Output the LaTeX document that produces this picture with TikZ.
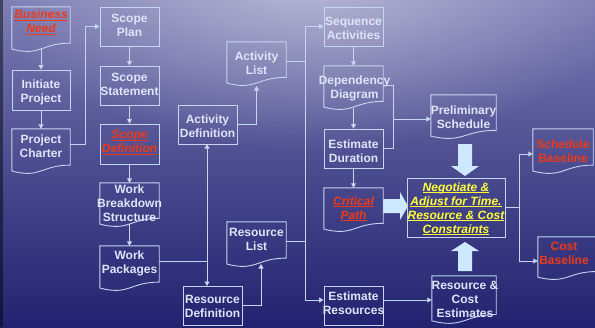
\documentclass[tikz,border=0pt]{standalone}
\usepackage{fontspec}
\setmainfont{Liberation Sans}
\usetikzlibrary{arrows.meta,calc,fadings}

% underline with a heavier rule
\newcommand\undl[1]{\setbox0\hbox{#1}\rlap{\rule[-2pt]{\wd0}{1pt}}\box0}

\definecolor{bgtop}{HTML}{7C7CB4}
\definecolor{bgmid}{HTML}{4C4C90}
\definecolor{bgbot}{HTML}{222270}
\definecolor{linec}{HTML}{C4D6F0}
\definecolor{textc}{HTML}{DCE6F8}
\definecolor{redc}{HTML}{EC3A16}
\definecolor{yellowc}{HTML}{FFFF3A}
\definecolor{bigarrow}{HTML}{CDE8FF}

\tikzfading[name=glow, inner color=transparent!55, outer color=transparent!100]

% outline of a flowchart "document" shape around an (invisible) node
\newcommand\docoutline[1]{%
  \draw[outline] (#1.north west) -- (#1.north east)
    -- ($(#1.north east)!0.8!(#1.south east)$)
    .. controls ($(#1.north)!0.8!(#1.south)$) and ($(#1.north)!1.1!(#1.south)$)
    .. ($(#1.north west)!0.93!(#1.south west)$) -- cycle;}

\begin{document}
\begin{tikzpicture}[x=1pt,y=-1pt,
  outline/.style={draw=linec, line width=0.9pt},
  box/.style={outline, minimum width=59pt, minimum height=39pt, inner sep=0pt},
  docbox/.style={draw=none, minimum width=59pt, minimum height=45pt, inner sep=0pt},
  txt/.style={font=\bfseries\fontsize{12}{14}\selectfont, text=textc, align=center, inner sep=0pt},
  redtxt/.style={txt, text=redc, font=\bfseries\itshape\fontsize{12}{14}\selectfont},
  redplain/.style={txt, text=redc},
  yellowtxt/.style={txt, text=yellowc, font=\bfseries\itshape\fontsize{12}{14}\selectfont},
  conn/.style={draw=linec, line width=0.9pt, -{Triangle[length=4.5pt,width=5pt]}},
  link/.style={draw=linec, line width=0.9pt},
  blockarrow/.style={fill=bigarrow}]

% background
\useasboundingbox (0,0) rectangle (595,327);
\shade[top color=bgtop, bottom color=bgbot, middle color=bgmid] (0,0) rectangle (595,327);
\fill[white, path fading=glow, fit fading=true] (310,-20) ellipse [x radius=330, y radius=170];
\fill[black, opacity=0.45] (0,0) rectangle (2.5,327);

% ---- boxes ----
\node[docbox, minimum width=58pt] (bneed) at (41,29.5) {};
\node[box, minimum width=58pt, minimum height=40pt] (init) at (41,90) {};
\node[docbox, minimum width=58pt] (charter) at (41,151.5) {};

\node[box] (splan) at (129.5,26.5) {};
\node[box] (sstmt) at (129.5,85.5) {};
\node[box, minimum height=40pt] (sdef) at (129.5,144) {};
\node[docbox, minimum height=44pt] (wbs) at (129.5,205) {};
\node[docbox] (wpack) at (129.5,268.5) {};

\node[box] (actdef) at (207.5,124.5) {};
\node[docbox, minimum height=44pt] (actlist) at (256.5,64) {};
\node[docbox] (reslist) at (256.5,244.5) {};
\node[box] (resdef) at (212.5,305.5) {};

\node[box] (seqact) at (353.5,26.5) {};
\node[docbox, minimum height=44pt] (depdia) at (353.5,88) {};
\node[box] (estdur) at (353.5,148.5) {};
\node[docbox, minimum height=44pt] (crit) at (353.5,210) {};
\node[box] (estres) at (353.5,305.5) {};

\node[docbox, minimum width=65pt, minimum height=44pt] (prelim) at (463.5,117) {};
\node[docbox, minimum width=60pt] (schbase) at (563,151.5) {};
\node[docbox, minimum height=43pt] (costbase) at (567.5,258.5) {};
\node[docbox, minimum width=64pt, minimum height=48pt] (rce) at (464,300) {};

% large block arrows into the negotiation step
\fill[blockarrow] (458,144) -- (472,144) -- (472,166) -- (479,166) -- (465,176)
  -- (451,166) -- (458,166) -- cycle;
\fill[blockarrow] (458,271) -- (472,271) -- (472,251) -- (479,251) -- (465,242)
  -- (451,251) -- (458,251) -- cycle;
\fill[blockarrow] (383,199) -- (400,199) -- (400,192) -- (408,206) -- (400,220)
  -- (400,213) -- (383,213) -- cycle;

\node[box, minimum width=98pt, minimum height=59pt] (negot) at (456,207.5) {};

\foreach \d in {bneed,charter,wbs,wpack,actlist,reslist,depdia,crit,prelim,schbase,costbase,rce}
  {\docoutline{\d}}

% ---- texts ----
\node[redtxt] (bneed-t) at (41,22.5) {\undl{Business}\\\undl{Need}};
\node[txt] (init-t) at (41,92.5) {Initiate\\Project};
\node[txt] (charter-t) at (41,146) {Project\\Charter};
\node[txt] (splan-t) at (129.5,25.5) {Scope\\Plan};
\node[txt] (sstmt-t) at (129.5,84) {Scope\\Statement};
\node[redtxt] (sdef-t) at (129.5,142.5) {\undl{Scope}\\\undl{Definition}};
\node[txt] (wbs-t) at (129.5,203.5) {Work\\Breakdown\\Structure};
\node[txt] (wpack-t) at (129.5,263) {Work\\Packages};
\node[txt] (actdef-t) at (207.5,126) {Activity\\Definition};
\node[txt] (actlist-t) at (256.5,63.5) {Activity\\List};
\node[txt] (reslist-t) at (256.5,239) {Resource\\List};
\node[txt] (resdef-t) at (212.5,306) {Resource\\Definition};
\node[txt] (seqact-t) at (353.5,28) {Sequence\\Activities};
\node[txt] (depdia-t) at (354.5,88.5) {Dependency\\Diagram};
\node[txt] (estdur-t) at (353.5,151) {Estimate\\Duration};
\node[redtxt] (crit-t) at (353.5,209) {\undl{Critical}\\\undl{Path}};
\node[txt] (estres-t) at (353.5,303) {Estimate\\Resources};
\node[txt] (prelim-t) at (463.5,117.5) {Preliminary\\Schedule};
\node[yellowtxt] (negot-t) at (456,209) {\undl{Negotiate \&}\\\undl{Adjust for Time.}\\\undl{Resource \& Cost}\\\undl{Constraints}};
\node[redplain] (schbase-t) at (563,151) {Schedule\\Baseline};
\node[redplain] (costbase-t) at (564,253) {Cost\\Baseline};
\node[txt] (rce-t) at (465,299.5) {Resource \&\\Cost\\Estimates};

% ---- connectors ----
\draw[conn] ($(bneed.north)!0.93!(bneed.south)$) -- (init.north);
\draw[conn] (init.south) -- (charter.north);
\draw[conn] (charter.east |- 0,144) -- (85,144) |- (splan.west);
\draw[conn] (splan.south) -- (sstmt.north);
\draw[conn] (sstmt.south) -- (sdef.north);
\draw[conn] (sdef.south) -- (wbs.north);
\draw[conn] ($(wbs.north)!0.93!(wbs.south)$) -- (wpack.north);

\draw[conn] (wpack.east |- 0,261) -| (207,144);
\draw[conn] (207,261) -- (207,286);

\draw[conn] (actdef.east) -| (256.5,86);
\draw[link] (actlist.east |- 0,61) -- (305,61);
\draw[conn] (305,61) |- (seqact.west);
\draw[conn] (305,61) |- (estres.west |- 0,300);
\draw[link] (reslist.east |- 0,241) -- (305,241);
\draw[conn] (resdef.east) -| (261,264);

\draw[conn] (seqact.south) -- (depdia.north);
\draw[conn] ($(depdia.north)!0.95!(depdia.south)$) -- (estdur.north);
\draw[link] (depdia.east |- 0,85) -- (393,85) -- (393,148.5) -- (estdur.east);
\draw[conn] (393,119) -- (prelim.west |- 0,119);
\draw[conn] (estdur.south) -- (crit.north);
\draw[conn] (estres.east |- 0,300) -- (rce.west |- 0,300);

\draw[link] (negot.east) -- (519,207.5);
\draw[conn] (519,207.5) |- (schbase.west |- 0,154);
\draw[conn] (519,207.5) |- (costbase.west |- 0,261);
\end{tikzpicture}
\end{document}
